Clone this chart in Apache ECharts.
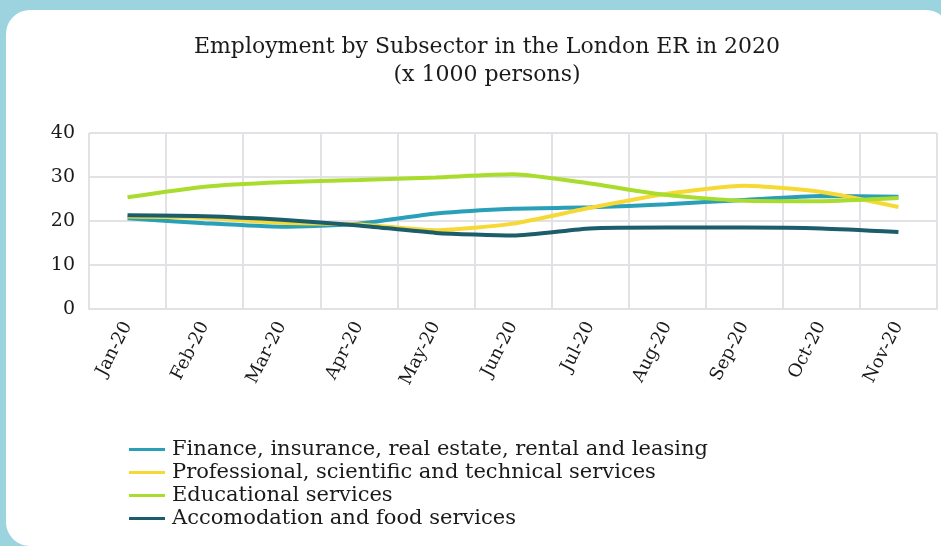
<!DOCTYPE html>
<html>
<head>
<meta charset="utf-8">
<script src="https://cdn.jsdelivr.net/npm/echarts@6/dist/echarts.min.js"></script>
<style>
  html, body { margin: 0; padding: 0; width: 941px; height: 546px; overflow: hidden; background: #9bd3df; }
  #panel { position: absolute; left: 6px; top: 10px; width: 944px; height: 536px; background: #ffffff; border-radius: 24px 24px 0 24px; }
  #chart { position: absolute; left: 0; top: 0; width: 941px; height: 546px; }
</style>
</head>
<body>
<div id="panel"></div>
<div id="chart"></div>
<script>
// Monthly employment by subsector, thousands of persons
const months = ['Jan-20', 'Feb-20', 'Mar-20', 'Apr-20', 'May-20', 'Jun-20', 'Jul-20', 'Aug-20', 'Sep-20', 'Oct-20', 'Nov-20'];
const finance = [20.6, 19.5, 18.7, 19.4, 21.7, 22.8, 23.1, 23.8, 24.8, 25.7, 25.5];
const professional = [21.0, 20.7, 19.6, 19.2, 17.9, 19.4, 23.0, 26.2, 28.0, 26.6, 23.2];
const educational = [25.4, 27.8, 28.8, 29.3, 29.9, 30.6, 28.5, 25.9, 24.6, 24.5, 25.2];
const accommodation = [21.3, 21.1, 20.3, 19.0, 17.3, 16.7, 18.3, 18.5, 18.5, 18.3, 17.5];

const seriesNames = [
  'Finance, insurance, real estate, rental and leasing',
  'Professional, scientific and technical services',
  'Educational services',
  'Accomodation and food services'
];
const seriesColors = ['#2a9fb8', '#f7d935', '#a9dc2c', '#1c5d6c'];
const seriesData = [finance, professional, educational, accommodation];

const serif = '"DejaVu Serif", "Liberation Serif", serif';
const gridColor = '#e2e2e6';

const chart = echarts.init(document.getElementById('chart'), null, { renderer: 'canvas' });
chart.setOption({
  animation: false,
  backgroundColor: 'transparent',
  title: {
    text: 'Employment by Subsector in the London ER in 2020\n(x 1000 persons)',
    left: 482,
    top: 28,
    textAlign: 'center',
    textStyle: { fontFamily: serif, fontWeight: 'normal', fontSize: 22, color: '#1a1a1a', lineHeight: 28 }
  },
  legend: {
    orient: 'vertical',
    left: 124,
    top: 434,
    itemGap: 2,
    itemWidth: 36,
    itemHeight: 3,
    icon: 'rect',
    textStyle: { fontFamily: serif, fontSize: 21, color: '#1a1a1a', padding: [0, 0, 0, 2] },
    data: seriesNames
  },
  grid: { left: 89, right: 4, top: 133, bottom: 237 },
  xAxis: {
    type: 'category',
    data: months,
    boundaryGap: true,
    axisLine: { lineStyle: { color: gridColor, width: 2 } },
    axisTick: { show: false },
    splitLine: { show: true, lineStyle: { color: gridColor, width: 2 } },
    axisLabel: { rotate: 63, margin: 14, fontFamily: serif, fontSize: 18, color: '#1a1a1a', interval: 0 }
  },
  yAxis: {
    type: 'value',
    min: 0,
    max: 40,
    interval: 10,
    axisLine: { show: false },
    axisTick: { show: false },
    splitLine: { lineStyle: { color: gridColor, width: 2 } },
    axisLabel: { margin: 14, fontFamily: serif, fontSize: 19, color: '#1a1a1a' }
  },
  series: seriesNames.map((name, i) => ({
    name,
    type: 'line',
    data: seriesData[i],
    smooth: 0.2,
    symbol: 'none',
    lineStyle: { color: seriesColors[i], width: 4 },
    itemStyle: { color: seriesColors[i] }
  }))
});
</script>
</body>
</html>
